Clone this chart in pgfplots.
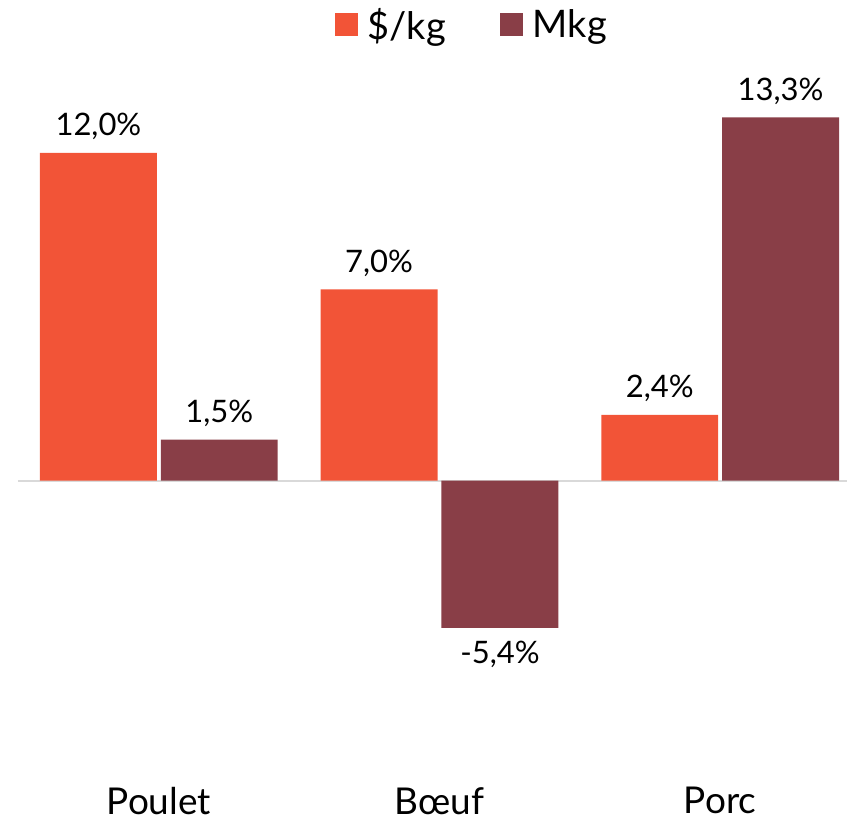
\documentclass[border=0pt]{standalone}
\usepackage{pgfplots}
\pgfplotsset{compat=1.18}
\usepackage{fontspec}
\setmainfont{Lato}
\definecolor{orangeA}{HTML}{F25437}
\definecolor{maroonA}{HTML}{893E47}
\definecolor{zeroline}{HTML}{D9D9D9}
\begin{document}
\begin{tikzpicture}
\begin{axis}[
  scale only axis,
  width=848pt, height=760pt,
  xmin=-0.566, xmax=2.452,
  ymin=-10.21, ymax=17.6,
  axis line style={draw=none},
  ytick=\empty,
  xtick={0,1,2},
  xticklabels={Poulet,B\oe uf,Porc},
  major tick length=0pt,
  xticklabel style={font=\fontsize{37}{40}\selectfont, anchor=north, inner sep=0pt, yshift=-28pt},
  ybar=4pt,
  bar width=117pt,
  point meta=y,
  /pgf/number format/.cd, fixed, fixed zerofill, precision=1, use comma, assume math mode=true,
  /pgfplots/.cd,
  nodes near coords={\pgfmathprintnumber{\pgfplotspointmeta}\%},
  nodes near coords align={vertical},
  nodes near coords style={font=\fontsize{31}{34}\selectfont, black, inner xsep=0pt, inner ysep=13pt},
  legend columns=2,
  legend style={at={(rel axis cs:0.557,1)}, anchor=north, draw=none, fill=none, yshift=-4pt,
    font=\fontsize{38}{40}\selectfont,
    /tikz/every odd column/.append style={column sep=8pt},
    /tikz/every even column/.append style={column sep=52pt}},
  legend image code/.code={\fill[#1,draw=none] (0pt,-11.5pt) rectangle (23pt,11.5pt);},
  clip=false,
]
\draw[zeroline, line width=2pt] (axis cs:-0.502,0) -- (axis cs:2.452,0);
\draw[draw=none] (rel axis cs:0.5,0) -- ++(0pt,-64pt);
\addplot[fill=orangeA, draw=none] coordinates {(0,12.0) (1,7.0) (2,2.4)};
\addplot[fill=maroonA, draw=none] coordinates {(0,1.5) (1,-5.4) (2,13.3)};
\legend{\$/kg, Mkg}
\end{axis}
\end{tikzpicture}
\end{document}
